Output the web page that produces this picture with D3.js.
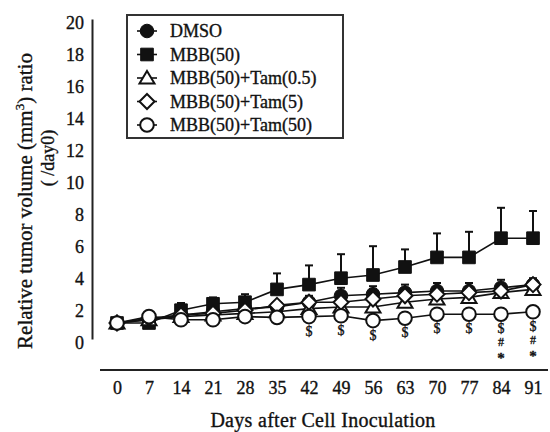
<!DOCTYPE html>
<html>
<head>
<meta charset="utf-8">
<script src="https://cdn.jsdelivr.net/npm/d3@7"></script>
<style>
  body { margin: 0; background: #fff; }
  svg { display: block; }
  svg text { font-family: "Liberation Serif", "Times New Roman", Times, "DejaVu Serif", serif; fill: #111; }
  svg text.heavy { stroke: #111; stroke-width: 0.35px; }
</style>
</head>
<body>
<div id="chart"></div>
<script>
// data (relative tumor volume / day0)
var days = [0, 7, 14, 21, 28, 35, 42, 49, 56, 63, 70, 77, 84, 91];
var yTicks = [0, 2, 4, 6, 8, 10, 12, 14, 16, 18, 20];

var dmso     = [1.0, 1.2, 1.5, 1.7, 1.9, 2.0, 2.3, 2.7, 2.8, 2.9, 3.0, 3.0, 3.2, 3.4];
var dmsoErr  = [0, 0.1, 0.2, 0.2, 0.2, 0.3, 0.4, 0.5, 0.5, 0.5, 0.5, 0.5, 0.5, 0.4];
var mbb      = [1.0, 1.0, 1.8, 2.2, 2.3, 3.1, 3.4, 3.8, 4.0, 4.5, 5.1, 5.1, 6.3, 6.3];
var mbbErr   = [0, 0, 0.45, 0.4, 0.5, 1.0, 1.2, 1.5, 1.8, 1.1, 1.5, 1.6, 1.9, 1.7];
var tam05    = [1.0, 1.2, 1.4, 1.5, 1.6, 1.7, 1.9, 2.0, 2.0, 2.3, 2.5, 2.6, 2.9, 3.1];
var tam5     = [1.0, 1.3, 1.5, 1.6, 1.8, 2.1, 2.3, 2.3, 2.5, 2.7, 2.8, 2.9, 3.0, 3.4];
var tam50    = [1.0, 1.4, 1.2, 1.2, 1.4, 1.35, 1.4, 1.45, 1.15, 1.3, 1.55, 1.55, 1.55, 1.7];

var seriesNames = ["DMSO", "MBB(50)", "MBB(50)+Tam(0.5)", "MBB(50)+Tam(5)", "MBB(50)+Tam(50)"];
var seriesShapes = ["circle", "square", "triangle", "diamond", "circle"];
var seriesFilled = [true, true, false, false, false];

// significance marks under the Tam(50) group
var dollarDays = [42, 49, 56, 63, 70, 77, 84, 91];
var hashDays = [84, 91];
var starDays = [84, 91];

var width = 550, height = 432;
var serif = "'Liberation Serif', 'Times New Roman', Times, 'DejaVu Serif', serif";

var svg = d3.select("#chart").append("svg")
  .attr("width", width)
  .attr("height", height)
  .attr("font-family", serif);

var x = d3.scaleLinear().domain([0, 91]).range([117, 533]);
var y = d3.scaleLinear().domain([0, 20]).range([339, 19]);

var series = [
  {values: dmso, err: dmsoErr},
  {values: mbb, err: mbbErr},
  {values: tam05, err: null},
  {values: tam5, err: null},
  {values: tam50, err: null}
].map(function(s, i) {
  return {
    name: seriesNames[i],
    shape: seriesShapes[i],
    filled: seriesFilled[i],
    points: days.map(function(d, j) {
      return {day: d, v: s.values[j], e: s.err ? s.err[j] : 0};
    })
  };
});

// y axis
var yAxis = svg.append("g")
  .attr("transform", "translate(92,0)")
  .call(d3.axisLeft(y).tickValues(yTicks).tickSize(0).tickSizeOuter(0).tickPadding(8));
yAxis.attr("font-family", serif);
yAxis.select(".domain").attr("stroke", "#222").attr("stroke-width", 2);
yAxis.selectAll("text")
  .attr("class", "heavy")
  .attr("dy", "0.55em")
  .style("font-size", "18px")
  .style("font-family", serif)
  .attr("fill", "#111");

// x axis (line drawn wider than the data range, no ticks)
var xAxis = svg.append("g")
  .attr("transform", "translate(0,370)")
  .call(d3.axisBottom(x).tickValues(days).tickSize(0).tickPadding(11));
xAxis.attr("font-family", serif);
xAxis.select(".domain").remove();
xAxis.append("line")
  .attr("x1", x.range()[0] - 17)
  .attr("x2", x.range()[1] + 15)
  .attr("stroke", "#222")
  .attr("stroke-width", 2);
xAxis.selectAll("text")
  .attr("class", "heavy")
  .style("font-size", "18px")
  .style("font-family", serif)
  .attr("fill", "#111");

// axis titles
svg.append("text")
  .attr("class", "heavy")
  .attr("x", 323)
  .attr("y", 427)
  .attr("text-anchor", "middle")
  .style("font-size", "20px")
  .style("letter-spacing", "0.3px")
  .text("Days after Cell Inoculation");

var yt = svg.append("text")
  .attr("class", "heavy")
  .attr("transform", "translate(32,201) rotate(-90)")
  .attr("text-anchor", "middle")
  .style("font-size", "21px");
yt.append("tspan").text("Relative tumor volume (mm");
yt.append("tspan").attr("dy", -8).style("font-size", "13px").text("3");
yt.append("tspan").attr("dy", 8).text(") ratio");

svg.append("text")
  .attr("class", "heavy")
  .attr("transform", "translate(54,158) rotate(-90)")
  .attr("text-anchor", "middle")
  .style("font-size", "18px")
  .text("( /day0)");

// lines
var line = d3.line()
  .x(function(d) { return x(d.day); })
  .y(function(d) { return y(d.v); });

svg.append("g").selectAll("path")
  .data(series)
  .enter().append("path")
  .attr("d", function(d) { return line(d.points); })
  .attr("fill", "none")
  .attr("stroke", "#111")
  .attr("stroke-width", 1.6);

// error bars (upper only)
var errPts = [];
series.forEach(function(s) {
  s.points.forEach(function(p) { if (p.e > 0) errPts.push(p); });
});
var eb = svg.append("g").attr("stroke", "#111").attr("stroke-width", 2);
eb.selectAll("line.v")
  .data(errPts)
  .enter().append("line")
  .attr("class", "v")
  .attr("x1", function(d) { return x(d.day); })
  .attr("x2", function(d) { return x(d.day); })
  .attr("y1", function(d) { return y(d.v); })
  .attr("y2", function(d) { return y(d.v + d.e); });
eb.selectAll("line.c")
  .data(errPts)
  .enter().append("line")
  .attr("class", "c")
  .attr("x1", function(d) { return x(d.day) - 4; })
  .attr("x2", function(d) { return x(d.day) + 4; })
  .attr("y1", function(d) { return y(d.v + d.e); })
  .attr("y2", function(d) { return y(d.v + d.e); });

// markers
function symbolPath(shape) {
  if (shape === "circle") return d3.symbol().type(d3.symbolCircle).size(145)();
  if (shape === "square") return d3.symbol().type(d3.symbolSquare).size(160)();
  if (shape === "triangle") return "M0,-7L7.5,5.5L-7.5,5.5Z";
  return "M0,-7.5L7.5,0L0,7.5L-7.5,0Z";
}

series.forEach(function(s) {
  svg.append("g").selectAll("path")
    .data(s.points)
    .enter().append("path")
    .attr("transform", function(d) { return "translate(" + x(d.day) + "," + y(d.v) + ")"; })
    .attr("d", symbolPath(s.shape))
    .attr("fill", s.filled ? "#111" : "#fff")
    .attr("stroke", "#111")
    .attr("stroke-width", s.filled ? 1 : 2);
});

// significance marks
function tam50At(day) { return tam50[days.indexOf(day)]; }
var marks = svg.append("g")
  .attr("text-anchor", "middle")
  .style("font-size", "14px");
marks.selectAll("text.d")
  .data(dollarDays)
  .enter().append("text")
  .attr("class", "heavy")
  .attr("x", function(d) { return x(d); })
  .attr("y", function(d) { return y(tam50At(d)) + 19; })
  .text("$");
marks.selectAll("text.h")
  .data(hashDays)
  .enter().append("text")
  .attr("class", "heavy")
  .attr("x", function(d) { return x(d); })
  .attr("y", function(d) { return y(tam50At(d)) + 32; })
  .style("font-size", "12px")
  .text("#");
marks.selectAll("text.s")
  .data(starDays)
  .enter().append("text")
  .attr("class", "heavy")
  .attr("x", function(d) { return x(d); })
  .attr("y", function(d) { return y(tam50At(d)) + 49; })
  .style("font-size", "15px")
  .style("font-weight", "bold")
  .text("*");

// legend
var legend = svg.append("g");
legend.append("rect")
  .attr("x", 127).attr("y", 15)
  .attr("width", 216).attr("height", 123)
  .attr("fill", "#fff")
  .attr("stroke", "#333")
  .attr("stroke-width", 2);

var li = legend.selectAll("g.item")
  .data(series)
  .enter().append("g")
  .attr("class", "item")
  .attr("transform", function(d, i) { return "translate(147," + (31 + i * 23.5) + ")"; });
li.append("line")
  .attr("x1", -10).attr("x2", 10)
  .attr("stroke", "#111").attr("stroke-width", 1.6);
li.append("path")
  .attr("d", function(d) { return symbolPath(d.shape); })
  .attr("fill", function(d) { return d.filled ? "#111" : "#fff"; })
  .attr("stroke", "#111")
  .attr("stroke-width", function(d) { return d.filled ? 1 : 2; });
li.append("text")
  .attr("class", "heavy")
  .attr("x", 23)
  .attr("dy", "0.35em")
  .style("font-size", "18px")
  .text(function(d) { return d.name; });
</script>
</body>
</html>
